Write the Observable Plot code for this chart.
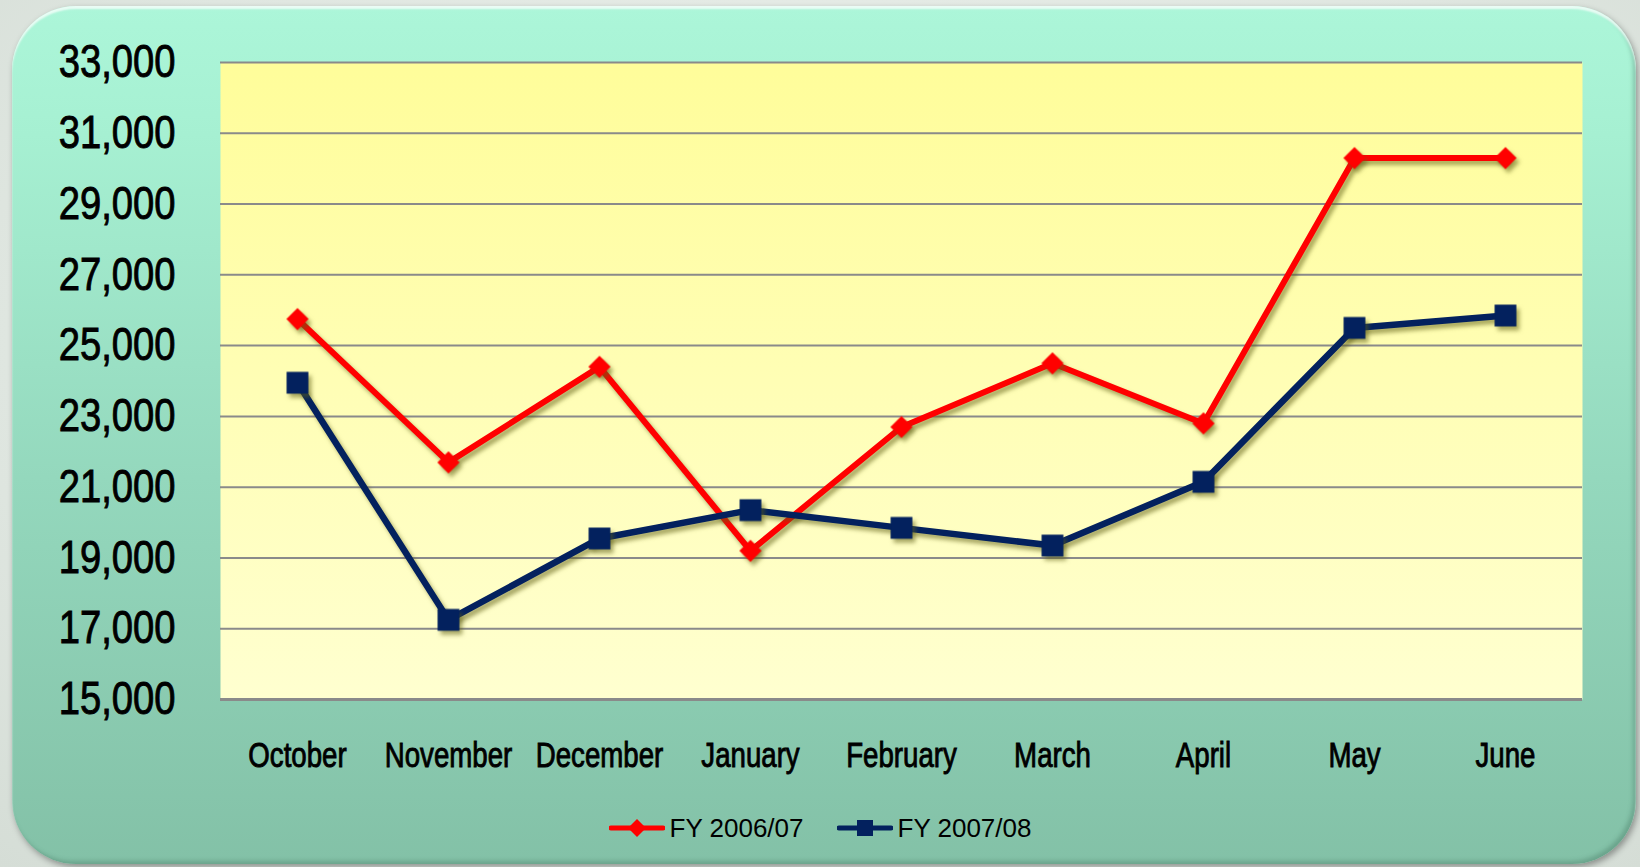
<!DOCTYPE html>
<html><head><meta charset="utf-8">
<script src="https://cdn.jsdelivr.net/npm/d3@7"></script>
<script src="https://cdn.jsdelivr.net/npm/@observablehq/plot@0.6"></script>
<style>
html,body{margin:0;padding:0;width:1640px;height:867px;overflow:hidden;}
body{background:radial-gradient(ellipse at 50% 40%, #eef2ee 0%, #dfe6e0 70%, #d5ddd6 100%);position:relative;}
#card{position:absolute;left:12px;top:6px;width:1624px;height:858px;border-radius:64px;
  background:linear-gradient(to bottom,#acf6d9 0%,#a6f0d2 15%,#94d8bd 55%,#83c1a7 100%);
  box-shadow: inset 0 3px 2px rgba(255,255,255,.75), inset -3px -3px 4px rgba(60,110,90,.35), 2px 3px 6px rgba(0,0,0,.35);}
#chart{position:absolute;left:0;top:0;}
#chart svg{overflow:visible;}
#chart g[aria-label="line"], #chart g[aria-label="dot"]{filter:drop-shadow(3px 4px 2px rgba(95,95,20,0.55));}
#chart g[aria-label="y-axis tick label"] text, #chart g[aria-label="x-axis tick label"] text{stroke:#000;stroke-width:0.9px;}
#legend{position:absolute;left:0;top:810px;width:1640px;height:36px;display:flex;justify-content:center;align-items:center;
  font-family:"Liberation Sans",Arial,sans-serif;font-size:26px;color:#000;}
.item{display:flex;align-items:center;}
.item svg{margin-right:5px;}
.item + .item{margin-left:33px;}
</style>
</head><body>
<div id="card"></div>
<div id="chart"></div>
<div id="legend"></div>
<script>
const months = ["October","November","December","January","February","March","April","May","June"];
const fy0607 = [25750, 21700, 24400, 19200, 22700, 24500, 22800, 30300, 30300];
const fy0708 = [23950, 17250, 19550, 20350, 19850, 19350, 21150, 25500, 25850];
const seriesNames = ["FY 2006/07", "FY 2007/08"];
const seriesColors = ["#ff0000", "#03215e"];
const yTicks = [15000,17000,19000,21000,23000,25000,27000,29000,31000,33000];

const red = months.map((m,i)=>({month:m, value:fy0607[i], series:seriesNames[0]}));
const blue = months.map((m,i)=>({month:m, value:fy0708[i], series:seriesNames[1]}));

const chart = Plot.plot({
  width:1640, height:790,
  marginLeft:220, marginRight:58, marginTop:62, marginBottom:91,
  style:{background:"transparent", fontFamily:'"Liberation Sans",Arial,sans-serif', color:"#000", overflow:"visible"},
  x:{type:"point", domain:months, padding:0.5, label:null},
  y:{domain:[15000,33000], label:null},
  color:{domain:seriesNames, range:seriesColors},
  marks:[
    Plot.frame({fill:"#fffdc0", stroke:"none"}),
    Plot.gridY(yTicks, {stroke:"#8a8a8a", strokeOpacity:1, strokeWidth:2}),
    Plot.ruleY([15000], {stroke:"#8a8a8a", strokeWidth:3}),
    Plot.axisY({ticks:yTicks, tickSize:0, tickPadding:45, fontSize:46, tickFormat:d3.format(","), label:null}),
    Plot.axisX({tickSize:0, tickPadding:43, fontSize:35, label:null}),
    Plot.line(red, {x:"month", y:"value", stroke:"series", strokeWidth:6}),
    Plot.line(blue, {x:"month", y:"value", stroke:"series", strokeWidth:6.5}),
    Plot.dot(red, {x:"month", y:"value", fill:"series", symbol:"diamond2", r:10}),
    Plot.dot(blue, {x:"month", y:"value", fill:"series", symbol:"square", r:12.3})
  ]
});

// yellow gradient for plot area
const defs = d3.select(chart).insert("defs", ":first-child");
defs.html('<linearGradient id="yg" x1="0" y1="0" x2="0" y2="1"><stop offset="0" stop-color="#fffd9a"/><stop offset="1" stop-color="#ffffd0"/></linearGradient>');
const f = chart.querySelector('[aria-label="frame"]');
if (f) { const r = f.tagName.toLowerCase()==='rect' ? f : f.querySelector('rect'); if (r) r.setAttribute('fill','url(#yg)'); }

// narrow the axis labels (Arial Narrow look) by scaling each label horizontally about its anchor
function narrowLabels(sel, s) {
  chart.querySelectorAll(sel + " text").forEach(t => {
    const tr = t.getAttribute("transform") || "";
    let x = parseFloat(t.getAttribute("x"));
    if (!isFinite(x)) x = 0;
    t.setAttribute("transform", `${tr} translate(${x},0) scale(${s},1) translate(${-x},0)`);
  });
}
narrowLabels('[aria-label="y-axis tick label"]', 0.83);
narrowLabels('[aria-label="x-axis tick label"]', 0.79);

document.getElementById("chart").appendChild(chart);

// legend
const legend = d3.select("#legend");
seriesNames.forEach((name,i)=>{
  const it = legend.append("div").attr("class","item");
  const s = it.append("svg").attr("width",56).attr("height",20);
  s.append("line").attr("x1",2).attr("x2",54).attr("y1",10).attr("y2",10).attr("stroke",seriesColors[i]).attr("stroke-width",5).attr("stroke-linecap","round");
  if (i===0) s.append("path").attr("d","M28,1L37,10L28,19L19,10Z").attr("fill",seriesColors[i]);
  else s.append("rect").attr("x",20).attr("y",2).attr("width",16).attr("height",16).attr("fill",seriesColors[i]);
  it.append("span").text(name);
});
</script>
</body></html>
